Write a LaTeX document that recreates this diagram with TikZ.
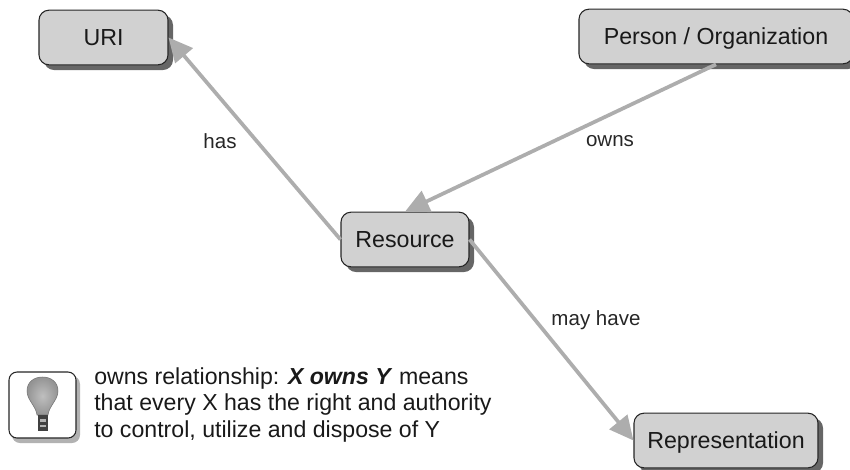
\documentclass[tikz,border=0pt]{standalone}
\usepackage{fontspec}
\setmainfont{Liberation Sans}
\usetikzlibrary{arrows.meta}
\definecolor{boxgray}{gray}{0.82}
\definecolor{linkgray}{gray}{0.68}
\tikzset{
    concept/.style={draw=black!85, line width=0.8pt, fill=boxgray, rounded corners=7.5pt,
        minimum height=41pt, inner sep=0pt, text height=12.5pt, text depth=0pt,
        font=\fontsize{17.4}{20}\selectfont, text=black!90},
    link/.style={draw=linkgray, line width=2.8pt, -{Triangle[length=18pt,width=17pt]}},
    edgelabel/.style={font=\fontsize{15.4}{18}\selectfont, text=black!85},
}
\begin{document}
\begin{tikzpicture}[x=0.75pt, y=-0.75pt]

    \useasboundingbox (0,0) rectangle (850,469);

    % drop shadows first
    \fill[black!60, rounded corners=7.5pt] (44,15) rectangle (173,70);
    \fill[black!60, rounded corners=7.5pt] (584,14) rectangle (858,69);
    \fill[black!60, rounded corners=7.5pt] (346,217) rectangle (474,272);
    \fill[black!60, rounded corners=7.5pt] (639,418) rectangle (823,473);

    \draw(103.5,37.5) node[concept, minimum width=96.75pt] (uri) {URI};
    \draw(716,36.5) node[concept, minimum width=205.5pt] (person) {Person / Organization};
    \draw(405,239.5) node[concept, minimum width=96pt] (resource) {Resource};
    \draw(726,440.5) node[concept, minimum width=138pt] (repr) {Representation};

    \draw[link] (resource.west) to (uri.east);
    \draw[link] (person.south) to (resource.north);
    \draw[link] (resource.east) to (repr.west);

    \draw(220,141) node[edgelabel] (has) {has};
    \draw(610,141) node[edgelabel] (owns) {owns};
    \draw(596,320) node[edgelabel] (mayhave) {may have};

    % tip icon
    \fill[black!30, rounded corners=6pt] (12,376) rectangle (80,443);
    \draw[black!85, line width=0.8pt, fill=white, rounded corners=6pt] (9,372) rectangle (76,438);
    \shade[draw=black!55, line width=0.4pt, inner color=black!25, outer color=black!42]
        (37,415) .. controls (36,406) and (27,400) .. (27,391)
        .. controls (27,382) and (34,377) .. (42.5,377)
        .. controls (51,377) and (58,382) .. (58,391)
        .. controls (58,400) and (49,406) .. (48,415) -- cycle;
    \fill[black!75] (37.5,415) rectangle (47.5,431);
    \fill[black!30] (39.5,419) rectangle (45.5,422);
    \fill[black!30] (39.5,424.5) rectangle (45.5,427);

    \draw(94,405) node[anchor=west, align=left, inner sep=0pt, text=black!90,
        font=\fontsize{17.35}{20}\selectfont] (note)
        {owns relationship: \textbf{\textit{X owns Y}} means\\
         that every X has the right and authority\\
         to control, utilize and dispose of Y};

    \end{tikzpicture}
\end{document}
